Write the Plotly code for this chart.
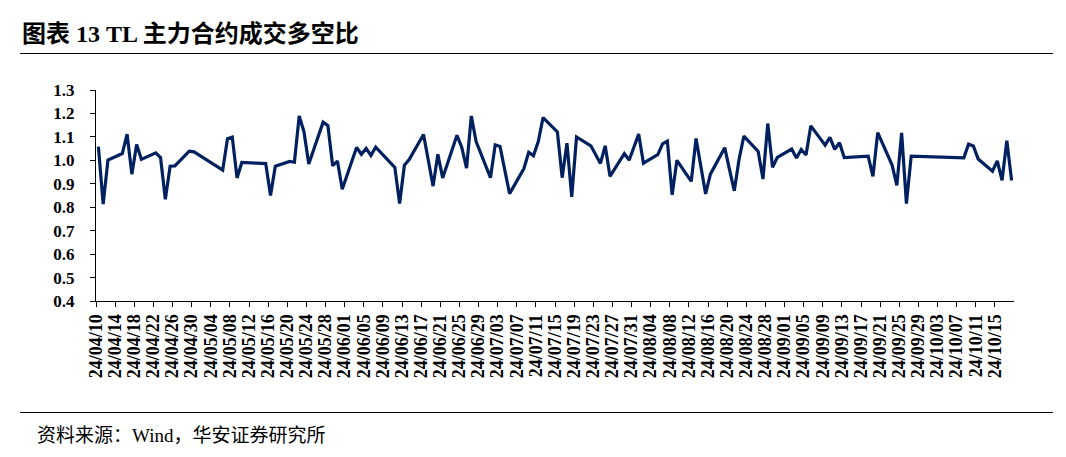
import plotly.graph_objects as go
import pandas as pd

# ---------------- data ----------------
dates = [
    "2024-04-10", "2024-04-11", "2024-04-12", "2024-04-15", "2024-04-16", "2024-04-17", "2024-04-18", "2024-04-19",
    "2024-04-22", "2024-04-23", "2024-04-24", "2024-04-25", "2024-04-26", "2024-04-29", "2024-04-30",
    "2024-05-06", "2024-05-07", "2024-05-08", "2024-05-09", "2024-05-10",
    "2024-05-13", "2024-05-14", "2024-05-15", "2024-05-16", "2024-05-17",
    "2024-05-20", "2024-05-21", "2024-05-22", "2024-05-23", "2024-05-24",
    "2024-05-27", "2024-05-28", "2024-05-29", "2024-05-30", "2024-05-31",
    "2024-06-03", "2024-06-04", "2024-06-05", "2024-06-06", "2024-06-07",
    "2024-06-11", "2024-06-12", "2024-06-13", "2024-06-14",
    "2024-06-17", "2024-06-18", "2024-06-19", "2024-06-20", "2024-06-21",
    "2024-06-24", "2024-06-25", "2024-06-26", "2024-06-27", "2024-06-28",
    "2024-07-01", "2024-07-02", "2024-07-03", "2024-07-04", "2024-07-05",
    "2024-07-08", "2024-07-09", "2024-07-10", "2024-07-11", "2024-07-12",
    "2024-07-15", "2024-07-16", "2024-07-17", "2024-07-18", "2024-07-19",
    "2024-07-22", "2024-07-23", "2024-07-24", "2024-07-25", "2024-07-26",
    "2024-07-29", "2024-07-30", "2024-07-31", "2024-08-01", "2024-08-02",
    "2024-08-05", "2024-08-06", "2024-08-07", "2024-08-08", "2024-08-09",
    "2024-08-12", "2024-08-13", "2024-08-14", "2024-08-15", "2024-08-16",
    "2024-08-19", "2024-08-20", "2024-08-21", "2024-08-22", "2024-08-23",
    "2024-08-26", "2024-08-27", "2024-08-28", "2024-08-29", "2024-08-30",
    "2024-09-02", "2024-09-03", "2024-09-04", "2024-09-05", "2024-09-06",
    "2024-09-09", "2024-09-10", "2024-09-11", "2024-09-12", "2024-09-13",
    "2024-09-18", "2024-09-19", "2024-09-20",
    "2024-09-23", "2024-09-24", "2024-09-25", "2024-09-26", "2024-09-27",
    "2024-09-30",
    "2024-10-08", "2024-10-09", "2024-10-10", "2024-10-11",
    "2024-10-14", "2024-10-15", "2024-10-16", "2024-10-17", "2024-10-18",
]

ratio = [
    1.058, 0.813, 1.001, 1.029, 1.112, 0.941, 1.068, 1.004,
    1.032, 1.012, 0.834, 0.975, 0.976, 1.039, 1.036,
    0.958, 1.092, 1.099, 0.925, 0.991,
    0.988, 0.987, 0.986, 0.850, 0.975,
    0.995, 0.992, 1.189, 1.122, 0.984,
    1.163, 1.148, 0.977, 0.997, 0.877,
    1.055, 1.026, 1.051, 1.021, 1.056,
    0.970, 0.816, 0.979, 1.003,
    1.110, 1.000, 0.890, 1.026, 0.925,
    1.107, 1.055, 0.967, 1.189, 1.080,
    0.926, 1.066, 1.059, 0.958, 0.858,
    0.965, 1.034, 1.020, 1.080, 1.182,
    1.121, 0.926, 1.073, 0.844, 1.100,
    1.062, 1.025, 0.987, 1.062, 0.932,
    1.029, 1.001, 1.056, 1.112, 0.988,
    1.024, 1.070, 1.082, 0.853, 1.000,
    0.910, 1.093, 0.975, 0.857, 0.941,
    1.054, 0.960, 0.870, 1.005, 1.103,
    1.038, 0.920, 1.157, 0.970, 1.013,
    1.048, 1.010, 1.046, 1.023, 1.147,
    1.065, 1.098, 1.047, 1.075, 1.012,
    1.018, 0.932, 1.118,
    0.980, 0.893, 1.117, 0.815, 1.018,
    1.017,
    1.011, 1.069, 1.061, 1.006,
    0.954, 0.998, 0.915, 1.084, 0.914,
]

y_tick_values = [0.4, 0.5, 0.6, 0.7, 0.8, 0.9, 1.0, 1.1, 1.2, 1.3]
x_tick_start = "2024-04-10"
x_tick_end = "2024-10-15"
title_text = "图表 13 TL 主力合约成交多空比"
source_text = "资料来源：Wind，华安证券研究所"

# ---------------- figure ----------------
W, H = 1066, 457
L, R, T, B = 96, 52, 90, 156
pw, ph = W - L - R, H - T - B

def px_to_paper_x(px):
    return (px - L) / pw

def py_to_paper_y(py):
    return (H - B - py) / ph

# points centred in their day slot (as on a day-based date axis)
x_vals = pd.to_datetime(dates) + pd.Timedelta(hours=12)
tickvals = pd.date_range(x_tick_start, x_tick_end, freq="4D")
ticktext = [d.strftime("%y/%m/%d") for d in tickvals]

serif_cjk = "Liberation Serif, Noto Sans CJK SC"
tick_font = dict(family="Liberation Serif", size=17, color="black", weight="bold")

fig = go.Figure()
fig.add_trace(go.Scatter(
    x=x_vals, y=ratio, mode="lines",
    line=dict(color="#002060", width=3.2),
    showlegend=False, hoverinfo="skip",
))

fig.update_layout(
    width=W, height=H,
    margin=dict(l=L, r=R, t=T, b=B, pad=0),
    paper_bgcolor="white", plot_bgcolor="white",
    showlegend=False,
    title=dict(
        text=title_text,
        font=dict(family=serif_cjk, size=24, color="black", weight="bold"),
        x=22 / W, xanchor="left", xref="container",
        y=1 - 34 / H, yanchor="middle", yref="container",
    ),
    xaxis=dict(
        type="date",
        range=["2024-04-10", "2024-10-19"],
        tickmode="array", tickvals=tickvals, ticktext=ticktext,
        tickangle=-90, tickfont=dict(family="Liberation Serif", size=18, color="black", weight="bold"),
        ticks="outside", ticklen=5, tickwidth=1, tickcolor="black",
        showline=True, linecolor="black", linewidth=1,
        showgrid=False, zeroline=False,
    ),
    yaxis=dict(
        range=[0.4, 1.3],
        tickmode="array", tickvals=y_tick_values,
        ticktext=[f"{v:.1f}" for v in y_tick_values],
        tickfont=tick_font,
        ticks="outside", ticklen=5, tickwidth=1, tickcolor="black",
        ticklabelstandoff=12,
        showline=True, linecolor="black", linewidth=1,
        showgrid=False, zeroline=False,
    ),
    shapes=[
        dict(type="line", xref="paper", yref="paper",
             x0=px_to_paper_x(20), x1=px_to_paper_x(1053),
             y0=py_to_paper_y(53.5), y1=py_to_paper_y(53.5),
             line=dict(color="black", width=1)),
        dict(type="line", xref="paper", yref="paper",
             x0=px_to_paper_x(20), x1=px_to_paper_x(1053),
             y0=py_to_paper_y(412.5), y1=py_to_paper_y(412.5),
             line=dict(color="black", width=1)),
    ],
    annotations=[
        dict(text=source_text, xref="paper", yref="paper",
             x=px_to_paper_x(35), y=py_to_paper_y(435),
             xanchor="left", yanchor="middle", showarrow=False,
             font=dict(family=serif_cjk, size=19, color="black")),
    ],
)

fig.write_html("out.html")
